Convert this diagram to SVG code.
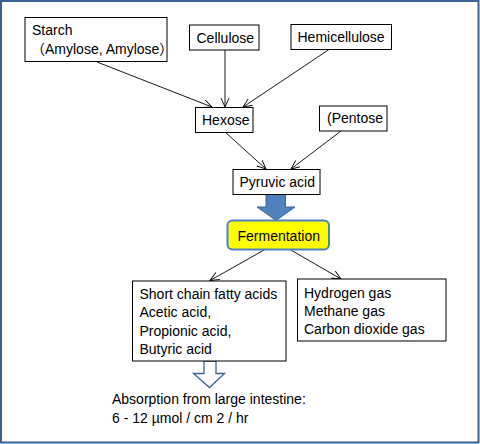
<svg xmlns="http://www.w3.org/2000/svg" width="480" height="444" viewBox="0 0 480 444">
<style>
.box{fill:#fff;stroke:#000;stroke-width:1}
.t{font-family:"Liberation Sans",Arial,"Noto Sans CJK JP",sans-serif;font-size:14px;fill:#000}
.c{fill:none;stroke:#000;stroke-width:0.9}
</style>
<defs>
<marker id="ah" markerUnits="userSpaceOnUse" markerWidth="10" markerHeight="10" refX="9" refY="4.5" orient="auto">
<path d="M0,0.5 L9,4.5 L0,8.5" fill="none" stroke="#000" stroke-width="0.9"/>
</marker>
</defs>
<rect x="1" y="1" width="477.5" height="441.5" fill="#fff" stroke="#3a6190" stroke-width="2"/>

<g id="connectors">
<line class="c" x1="97" y1="62" x2="212" y2="107" marker-end="url(#ah)"/>
<line class="c" x1="225" y1="50" x2="225" y2="107" marker-end="url(#ah)"/>
<line class="c" x1="329" y1="49.5" x2="243" y2="107" marker-end="url(#ah)"/>
<line class="c" x1="225" y1="132" x2="266" y2="169" marker-end="url(#ah)"/>
<line class="c" x1="341" y1="131" x2="291" y2="169" marker-end="url(#ah)"/>
<line class="c" x1="265" y1="249.5" x2="210" y2="280.5" marker-end="url(#ah)"/>
<line class="c" x1="290" y1="249.5" x2="341" y2="279" marker-end="url(#ah)"/>
<path id="block-arrow" d="M266,194.5 L285.5,194.5 L285.5,207 L295,207 L276,220.5 L257,207 L266,207 Z" fill="#4f81bd" stroke="#3c6496" stroke-width="1"/>
<path id="hollow-arrow" d="M204,361 L216,361 L216,373.5 L224.5,373.5 L209.5,387.5 L193.5,373.5 L204,373.5 Z" fill="#fff" stroke="#3c6496" stroke-width="1.3"/>
</g>

<g id="starch">
<rect class="box" x="25" y="17.5" width="142" height="44"/>
<text class="t" x="32" y="35">Starch</text>
<text class="t" x="31" y="53.5">（Amylose, Amylose）</text>
</g>
<g id="cellulose">
<rect class="box" x="189.5" y="25" width="69.5" height="25"/>
<text class="t" x="196.5" y="42.5">Cellulose</text>
</g>
<g id="hemicellulose">
<rect class="box" x="291" y="24.5" width="100.5" height="25"/>
<text class="t" x="297.5" y="42">Hemicellulose</text>
</g>
<g id="hexose">
<rect class="box" x="195.5" y="107.5" width="57.5" height="25"/>
<text class="t" x="202" y="124.5">Hexose</text>
</g>
<g id="pentose">
<rect class="box" x="319.5" y="106" width="67.5" height="25"/>
<text class="t" x="327" y="123">(Pentose</text>
</g>
<g id="pyruvic">
<rect class="box" x="233" y="169.5" width="87" height="25"/>
<text class="t" x="239.5" y="187">Pyruvic acid</text>
</g>
<g id="fermentation">
<rect x="227.5" y="220.5" width="101.5" height="29" rx="5" fill="#ffff00" stroke="#4f81bd" stroke-width="2"/>
<text class="t" x="237.5" y="240.5">Fermentation</text>
</g>
<g id="scfa">
<rect class="box" x="132.5" y="281" width="153.5" height="80"/>
<text class="t" x="139.5" y="299">Short chain fatty acids</text>
<text class="t" x="139.5" y="317">Acetic acid,</text>
<text class="t" x="139.5" y="335.5">Propionic acid,</text>
<text class="t" x="139.5" y="353.5">Butyric acid</text>
</g>
<g id="gases">
<rect class="box" x="297.5" y="279" width="148.5" height="62"/>
<text class="t" x="304" y="297.5">Hydrogen gas</text>
<text class="t" x="304" y="316">Methane gas</text>
<text class="t" x="304" y="334">Carbon dioxide gas</text>
</g>
<g id="absorption">
<text class="t" x="112" y="404">Absorption from large intestine:</text>
<text class="t" x="112" y="422.5">6 - 12 µmol / cm 2 / hr</text>
</g>
</svg>
